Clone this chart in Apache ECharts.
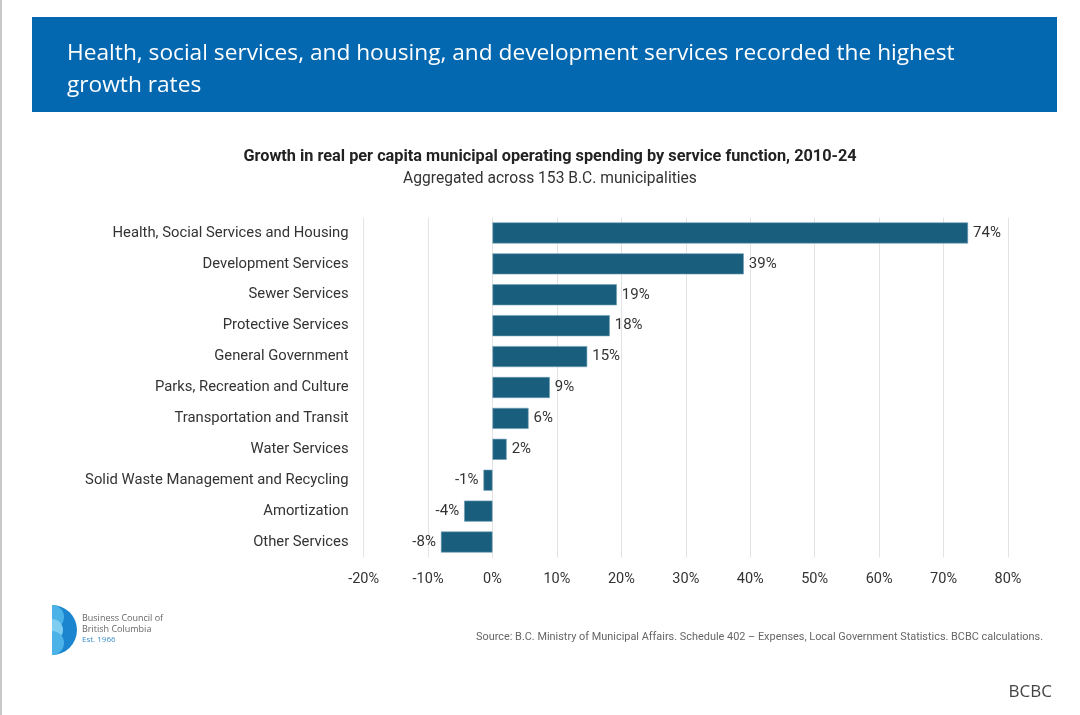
<!DOCTYPE html>
<html>
<head>
<meta charset="utf-8">
<script src="https://cdn.jsdelivr.net/npm/echarts@6/dist/echarts.min.js"></script>
<style>
  html, body { margin: 0; padding: 0; background: #fff; }
  #chart { width: 1080px; height: 715px; }
</style>
</head>
<body>
<div id="chart"></div>
<script>
const CATEGORIES = [
    'Health, Social Services and Housing',
    'Development Services',
    'Sewer Services',
    'Protective Services',
    'General Government',
    'Parks, Recreation and Culture',
    'Transportation and Transit',
    'Water Services',
    'Solid Waste Management and Recycling',
    'Amortization',
    'Other Services'
];
const GROWTH = [73.8, 39, 19.3, 18.2, 14.7, 8.9, 5.6, 2.2, -1.4, -4.4, -8];
const X_TICKS = { min: -20, max: 80, interval: 10 };

const BAR_COLOR = '#195e7d';
const TEXT_COLOR = '#333';

const chart = echarts.init(document.getElementById('chart'), null, { renderer: 'canvas' });

const option = {
    backgroundColor: '#fff',
    animation: false,
    title: [
        {
            text: 'Growth in real per capita municipal operating spending by service function, 2010-24',
            left: 545, top: 144, textAlign: 'center',
            textStyle: { fontFamily: 'Roboto', fontSize: 16.3, fontWeight: 'bold', color: '#222' }
        },
        {
            text: 'Aggregated across 153 B.C. municipalities',
            left: 545, top: 166, textAlign: 'center',
            textStyle: { fontFamily: 'Roboto', fontSize: 15.6, fontWeight: 'normal', color: '#333' }
        },
        {
            text: 'Source: B.C. Ministry of Municipal Affairs. Schedule 402 – Expenses, Local Government Statistics. BCBC calculations.',
            right: 32, top: 627,
            textStyle: { fontFamily: 'Roboto', fontSize: 10.9, fontWeight: 'normal', color: '#666' }
        },
        {
            text: 'BCBC',
            right: 23, top: 679,
            textStyle: { fontFamily: 'Open Sans', fontSize: 17, fontWeight: 'normal', color: '#444' }
        }
    ],
    graphic: [
        { type: 'rect', shape: { x: 0, y: 0, width: 2, height: 715 }, style: { fill: '#c8c8c8' }, silent: true },
        { type: 'rect', shape: { x: 32, y: 17, width: 1025, height: 95 }, style: { fill: '#0468b1' }, silent: true },
        {
            type: 'text', left: 67, top: 38, silent: true,
            style: {
                text: 'Health, social services, and housing, and development services recorded the highest\ngrowth rates',
                fill: '#fff', font: '22.7px "Open Sans"', lineHeight: 32
            }
        },
        // logo
        { type: 'sector', shape: { cx: 52, cy: 630, r0: 0, r: 25, startAngle: -Math.PI / 2, endAngle: Math.PI / 2 }, style: { fill: '#1b86cf' }, silent: true },
        { type: 'sector', shape: { cx: 52, cy: 617, r0: 0, r: 12, startAngle: -Math.PI / 2, endAngle: Math.PI / 2 }, style: { fill: '#4cb3e8' }, silent: true },
        { type: 'sector', shape: { cx: 52, cy: 630, r0: 0, r: 11, startAngle: -Math.PI / 2, endAngle: Math.PI / 2 }, style: { fill: '#7fcdf0' }, silent: true },
        { type: 'sector', shape: { cx: 52, cy: 643, r0: 0, r: 12, startAngle: -Math.PI / 2, endAngle: Math.PI / 2 }, style: { fill: '#4cb3e8' }, silent: true },
        {
            type: 'text', left: 82, top: 613, silent: true,
            style: { text: 'Business Council of\nBritish Columbia', fill: '#666', font: '9px "Open Sans"', lineHeight: 11 }
        },
        {
            type: 'text', left: 82, top: 636, silent: true,
            style: { text: 'Est. 1966', fill: '#3a8fd0', font: '8px "Open Sans"' }
        }
    ],
    grid: { left: 363.6, right: 72, top: 217.5, bottom: 157.5, containLabel: false },
    xAxis: {
        type: 'value',
        min: X_TICKS.min, max: X_TICKS.max, interval: X_TICKS.interval,
        axisLine: { show: false },
        axisTick: { show: false },
        axisLabel: {
            color: TEXT_COLOR, fontFamily: 'Roboto', fontSize: 14.5, margin: 14,
            formatter: v => v + '%'
        },
        splitLine: { show: true, lineStyle: { color: '#e3e3e3', width: 1 } }
    },
    yAxis: {
        type: 'category',
        inverse: true,
        data: CATEGORIES,
        axisLine: { show: false, onZero: false },
        axisTick: { show: false },
        axisLabel: { color: TEXT_COLOR, fontFamily: 'Roboto', fontSize: 14.8, margin: 15 },
        splitLine: { show: false }
    },
    series: [{
        type: 'bar',
        barCategoryGap: '32%',
        data: GROWTH.map(v => ({
            value: v,
            label: { position: v < 0 ? 'left' : 'right' }
        })),
        itemStyle: { color: BAR_COLOR, borderColor: '#6e9db5', borderWidth: 0.6 },
        label: {
            show: true,
            distance: 5,
            color: TEXT_COLOR,
            fontFamily: 'Roboto',
            fontSize: 15,
            formatter: p => Math.round(p.value) + '%'
        }
    }]
};

chart.setOption(option);
</script>
</body>
</html>
